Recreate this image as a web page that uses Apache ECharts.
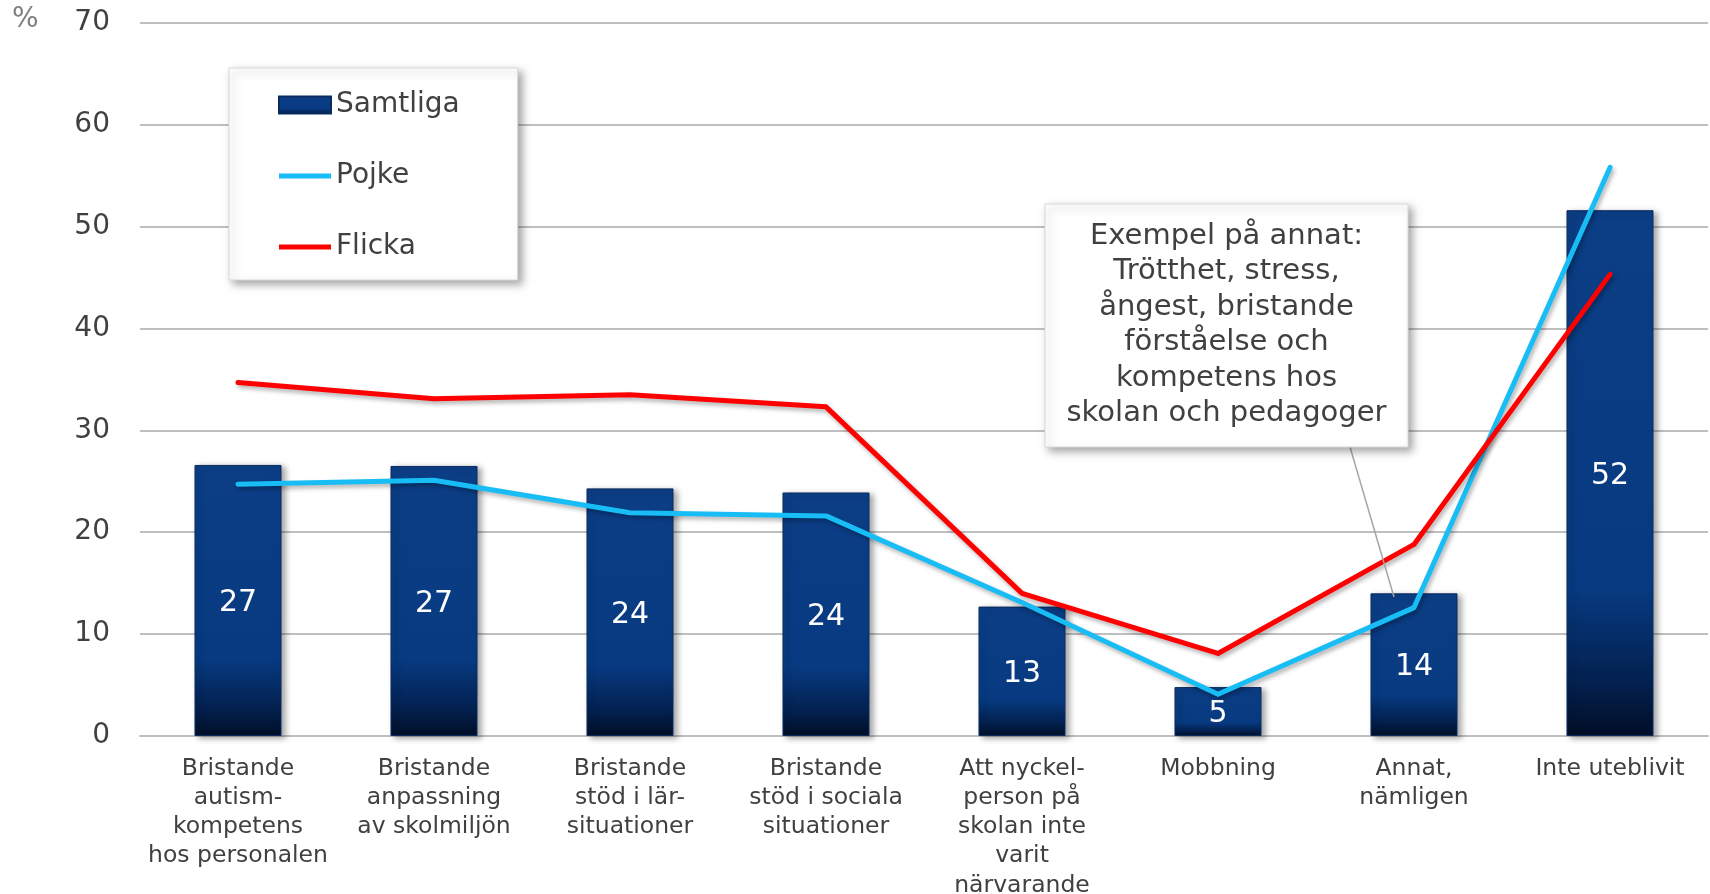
<!DOCTYPE html>
<html>
<head>
<meta charset="utf-8">
<script src="https://cdn.jsdelivr.net/npm/echarts@6/dist/echarts.min.js"></script>
<style>
html,body{margin:0;padding:0;background:#fff;}
#chart{width:1710px;height:894px;}
</style>
</head>
<body>
<div id="chart"></div>
<script>
const categories = [
  'Bristande\nautism-\nkompetens\nhos personalen',
  'Bristande\nanpassning\nav skolmiljön',
  'Bristande\nstöd i lär-\nsituationer',
  'Bristande\nstöd i sociala\nsituationer',
  'Att nyckel-\nperson på\nskolan inte\nvarit\nnärvarande',
  'Mobbning',
  'Annat,\nnämligen',
  'Inte uteblivit'
];
const samtliga = [26.6, 26.5, 24.3, 23.9, 12.7, 4.8, 14.0, 51.6];
const pojke = [24.7, 25.1, 21.9, 21.6, 13.1, 4.1, 12.6, 55.8];
const flicka = [34.7, 33.1, 33.5, 32.3, 14.0, 8.1, 18.8, 45.3];
const yTicks = {min: 0, max: 70, interval: 10};
const annotationText = 'Exempel på annat:\nTrötthet, stress,\nångest, bristande\nförståelse och\nkompetens hos\nskolan och pedagoger';

const FONT = '"DejaVu Sans", Verdana, sans-serif';
const chart = echarts.init(document.getElementById('chart'), null, {renderer: 'canvas'});

const barColor = new echarts.graphic.LinearGradient(0, 0, 0, 1, [
  {offset: 0, color: '#0c3e86'},
  {offset: 0.72, color: '#073a80'},
  {offset: 0.9, color: '#03204f'},
  {offset: 1, color: '#010f26'}
]);
const lineIcon = 'path://M0,0 L52,0 L52,5 L0,5 Z';

chart.setOption({
  animation: false,
  backgroundColor: '#ffffff',
  grid: {left: 140, right: 2, top: 22.7, bottom: 158, containLabel: false, outerBoundsMode: 'none'},
  legend: {
    orient: 'vertical',
    left: 229, top: 68,
    padding: [22, 58, 18, 49],
    itemWidth: 52, itemHeight: 17, itemGap: 41,
    backgroundColor: '#ffffff',
    borderColor: '#d9d9d9', borderWidth: 1,
    shadowColor: 'rgba(0,0,0,0.35)', shadowBlur: 8, shadowOffsetX: 4, shadowOffsetY: 4,
    textStyle: {fontFamily: FONT, fontSize: 28, color: '#404040', lineHeight: 30},
    data: [
      {name: 'Samtliga', icon: 'rect'},
      {name: 'Pojke', icon: lineIcon},
      {name: 'Flicka', icon: lineIcon}
    ]
  },
  xAxis: {
    type: 'category',
    data: categories,
    axisTick: {show: false},
    axisLine: {show: true, lineStyle: {color: '#bfbfbf', width: 2}},
    axisLabel: {
      interval: 0, margin: 18,
      fontFamily: FONT, fontSize: 23.5, lineHeight: 29.2, color: '#404040', align: 'center'
    }
  },
  yAxis: {
    type: 'value',
    min: yTicks.min, max: yTicks.max, interval: yTicks.interval,
    axisLine: {show: false},
    axisTick: {show: false},
    splitLine: {lineStyle: {color: '#bfbfbf', width: 2}},
    axisLabel: {margin: 30, fontFamily: FONT, fontSize: 28, color: '#404040'}
  },
  series: [
    {
      name: 'Samtliga',
      type: 'bar',
      data: samtliga,
      barCategoryGap: '55.6%',
      itemStyle: {
        color: barColor,
        borderColor: '#0a2c60', borderWidth: 1,
        shadowColor: 'rgba(0,0,0,0.35)', shadowBlur: 6, shadowOffsetX: 4, shadowOffsetY: 2
      },
      label: {
        show: true, position: 'inside', offset: [0, 3],
        formatter: p => Math.round(p.value),
        fontFamily: FONT, fontSize: 30, color: '#ffffff'
      },
      z: 2
    },
    {
      name: 'Pojke',
      type: 'line',
      data: pojke,
      symbol: 'none',
      lineStyle: {
        color: '#19bdf6', width: 5, cap: 'round', join: 'round',
        shadowColor: 'rgba(0,0,0,0.3)', shadowBlur: 4, shadowOffsetX: 2, shadowOffsetY: 3
      },
      itemStyle: {color: '#19bdf6'},
      z: 3
    },
    {
      name: 'Flicka',
      type: 'line',
      data: flicka,
      symbol: 'none',
      lineStyle: {
        color: '#ff0000', width: 5, cap: 'round', join: 'round',
        shadowColor: 'rgba(0,0,0,0.3)', shadowBlur: 4, shadowOffsetX: 2, shadowOffsetY: 3
      },
      itemStyle: {color: '#ff0000'},
      z: 4
    }
  ],
  graphic: [
    {
      type: 'text', left: 12, top: 6,
      style: {text: '%', font: '28px ' + FONT, fill: '#7f7f7f'}
    },
    {
      type: 'line', z: 10,
      shape: {x1: 1350, y1: 447, x2: 1394, y2: 597},
      style: {stroke: '#a6a6a6', lineWidth: 1.5}
    },
    {
      type: 'rect', z: 11,
      shape: {x: 1045, y: 204, width: 363, height: 243},
      style: {
        fill: '#ffffff', stroke: '#d9d9d9', lineWidth: 1,
        shadowColor: 'rgba(0,0,0,0.35)', shadowBlur: 8, shadowOffsetX: 4, shadowOffsetY: 4
      }
    },
    {
      type: 'text', z: 12,
      x: 1226.5, y: 325,
      style: {
        text: annotationText,
        font: '29px ' + FONT,
        fill: '#404040',
        align: 'center', verticalAlign: 'middle',
        lineHeight: 35.4
      }
    }
  ]
});
</script>
</body>
</html>
